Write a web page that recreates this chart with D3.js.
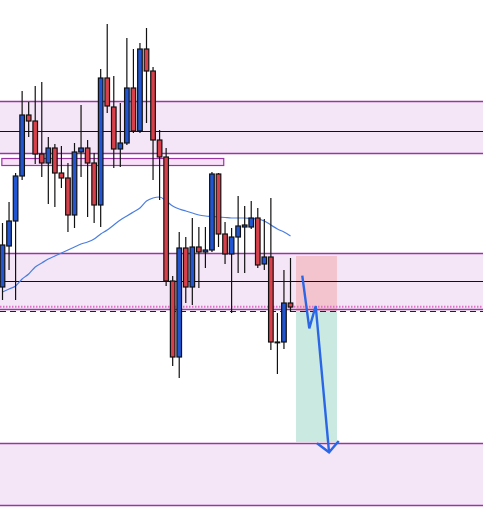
<!DOCTYPE html>
<html><head><meta charset="utf-8">
<script src="https://cdn.jsdelivr.net/npm/d3@7/dist/d3.min.js"></script>
<style>html,body{margin:0;padding:0;background:#fff;overflow:hidden}</style>
</head><body>
<svg id="c" width="483" height="526"></svg>
<script>
// Candles: open, high, low, close
const opens  = [149.13,149.54,149.79,150.24,150.85,150.79,150.46,150.37,150.52,150.27,150.22,149.85,150.48,150.52,150.37,149.95,151.22,150.93,150.51,150.57,151.12,150.69,151.51,151.29,150.60,150.43,149.19,148.43,149.52,149.13,149.53,149.48,149.50,150.26,149.66,149.46,149.63,149.73,149.73,149.82,149.36,149.43,148.58,148.58,148.97];
const highs  = [149.77,149.98,150.27,151.09,150.98,151.14,151.18,150.63,150.56,150.54,150.37,150.57,150.95,150.60,150.47,151.31,151.76,151.24,150.97,151.62,151.51,151.57,151.72,151.33,150.70,150.52,149.24,149.68,149.63,149.82,149.73,149.73,150.28,150.27,149.78,149.72,150.04,149.94,149.99,149.92,149.81,150.02,148.87,149.30,149.42];
const lows   = [149.00,149.30,149.00,150.20,150.63,150.36,150.23,149.96,149.93,150.12,149.68,149.72,150.23,149.83,149.77,149.73,150.87,150.32,150.33,150.55,150.67,150.67,150.77,150.20,150.00,149.14,148.34,148.22,148.97,148.95,149.12,149.32,149.48,149.53,149.36,148.87,149.27,149.27,149.71,149.32,149.30,148.50,148.26,148.51,148.88];
const closes = [149.55,149.79,150.24,150.85,150.79,150.46,150.37,150.52,150.27,150.22,149.85,150.48,150.52,150.37,149.95,151.22,150.94,150.51,150.57,151.12,150.69,151.51,151.29,150.60,150.43,149.19,148.43,149.52,149.13,149.53,149.48,149.50,150.26,149.66,149.46,149.63,149.74,149.75,149.82,149.35,149.43,148.58,148.58,148.97,148.93];
// Moving average
const maValues = [149.08,149.11,149.14,149.21,149.26,149.33,149.37,149.41,149.44,149.47,149.50,149.53,149.56,149.58,149.61,149.66,149.70,149.75,149.80,149.84,149.88,149.92,149.99,150.02,150.03,149.99,149.94,149.91,149.89,149.87,149.85,149.84,149.835,149.83,149.825,149.82,149.82,149.82,149.815,149.81,149.79,149.75,149.71,149.68,149.64];
// Zones [top, bottom]
const zones = [[150.99,150.47],[149.47,148.91],[147.57,146.95]];
const blackLevels = [150.69,149.19];
const smallBox = {x0:-0.1, x1:33.8, top:150.42, bottom:150.35};
const dottedLevel = 148.933;
const dashedLevel = 148.89;
// Trade box
const trade = {x0:44.84, x1:51.1, entry:148.89, stop:149.44, target:147.58};
// Projection arrow path [index, price]
const arrowPath = [[45.8,149.243],[46.87,148.717],[47.85,148.94],[49.89,147.477]];
const arrowHead = [[48.05,147.567],[49.89,147.477],[51.37,147.59]];

const W = 483, H = 526;
const svg = d3.select('#c');
const x = d3.scaleLinear().domain([0,44]).range([2.5,290.5]);
const y = d3.scaleLinear().domain([152.00,146.74]).range([0,526]);

const zoneFill = '#f5e6f7', zoneStroke = '#9a35a6';

// zones fill
svg.selectAll('rect.zone').data(zones).join('rect')
  .attr('x',0).attr('width',W)
  .attr('y',d=>y(d[0])).attr('height',d=>y(d[1])-y(d[0]))
  .attr('fill',zoneFill);

// trade boxes
svg.append('rect').attr('x',x(trade.x0)).attr('width',x(trade.x1)-x(trade.x0))
  .attr('y',y(trade.stop)).attr('height',y(trade.entry)-y(trade.stop)).attr('fill','#f4c4ce');
svg.append('rect').attr('x',x(trade.x0)).attr('width',x(trade.x1)-x(trade.x0))
  .attr('y',y(trade.entry)).attr('height',y(trade.target)-y(trade.entry)).attr('fill','#c9e9e1');

// zone borders
zones.forEach(z=>{
  z.forEach(v=>{
    svg.append('line').attr('x1',0).attr('x2',W)
      .attr('y1',Math.round(y(v))+0.5).attr('y2',Math.round(y(v))+0.5)
      .attr('stroke',zoneStroke).attr('stroke-width',1.3);
  });
});

// small box
svg.append('rect').attr('x',x(smallBox.x0)).attr('width',x(smallBox.x1)-x(smallBox.x0))
  .attr('y',Math.round(y(smallBox.top))+0.5).attr('height',y(smallBox.bottom)-y(smallBox.top))
  .attr('fill','#f8e0f9').attr('stroke',zoneStroke).attr('stroke-width',1.2);

// black levels
blackLevels.forEach(v=>{
  svg.append('line').attr('x1',0).attr('x2',W)
    .attr('y1',Math.round(y(v))+0.5).attr('y2',Math.round(y(v))+0.5)
    .attr('stroke','#111').attr('stroke-width',1.1);
});
// dotted pink
svg.append('line').attr('x1',0).attr('x2',W)
  .attr('y1',y(dottedLevel)).attr('y2',y(dottedLevel))
  .attr('stroke','#e070c8').attr('stroke-width',2).attr('stroke-dasharray','1.5,1.5');
// dashed black
svg.append('line').attr('x1',0).attr('x2',W)
  .attr('y1',Math.round(y(dashedLevel))+0.5).attr('y2',Math.round(y(dashedLevel))+0.5)
  .attr('stroke','#222').attr('stroke-width',1.2).attr('stroke-dasharray','6,4');

// moving average
svg.append('path').datum(maValues)
  .attr('d',d3.line().x((d,i)=>x(i)).y(d=>y(d)).curve(d3.curveMonotoneX))
  .attr('fill','none').attr('stroke','#4a7ee0').attr('stroke-width',1.2);

// candles
const candles = opens.map((o,i)=>({i,o,h:highs[i],l:lows[i],c:closes[i]}));
const bw = 4.6;
const g = svg.append('g');
g.selectAll('line.wick').data(candles).join('line')
  .attr('x1',d=>x(d.i)).attr('x2',d=>x(d.i))
  .attr('y1',d=>y(d.h)).attr('y2',d=>y(d.l))
  .attr('stroke','#111').attr('stroke-width',1.2);
g.selectAll('rect.body').data(candles).join('rect')
  .attr('x',d=>x(d.i)-bw/2).attr('width',bw)
  .attr('y',d=>y(Math.max(d.o,d.c)))
  .attr('height',d=>Math.max(0.8,Math.abs(y(d.o)-y(d.c))))
  .attr('fill',d=>d.c>d.o?'#2155d2':(d.c<d.o?'#d8414b':'#111'))
  .attr('stroke','#111').attr('stroke-width',1.2);

// arrow
const line = d3.line().x(d=>x(d[0])).y(d=>y(d[1]));
svg.append('path').datum(arrowPath).attr('d',line)
  .attr('fill','none').attr('stroke','#2a66e6').attr('stroke-width',2.4).attr('stroke-linejoin','miter');
svg.append('path').datum(arrowHead).attr('d',line)
  .attr('fill','none').attr('stroke','#2a66e6').attr('stroke-width',2.4);
</script>
</body></html>
